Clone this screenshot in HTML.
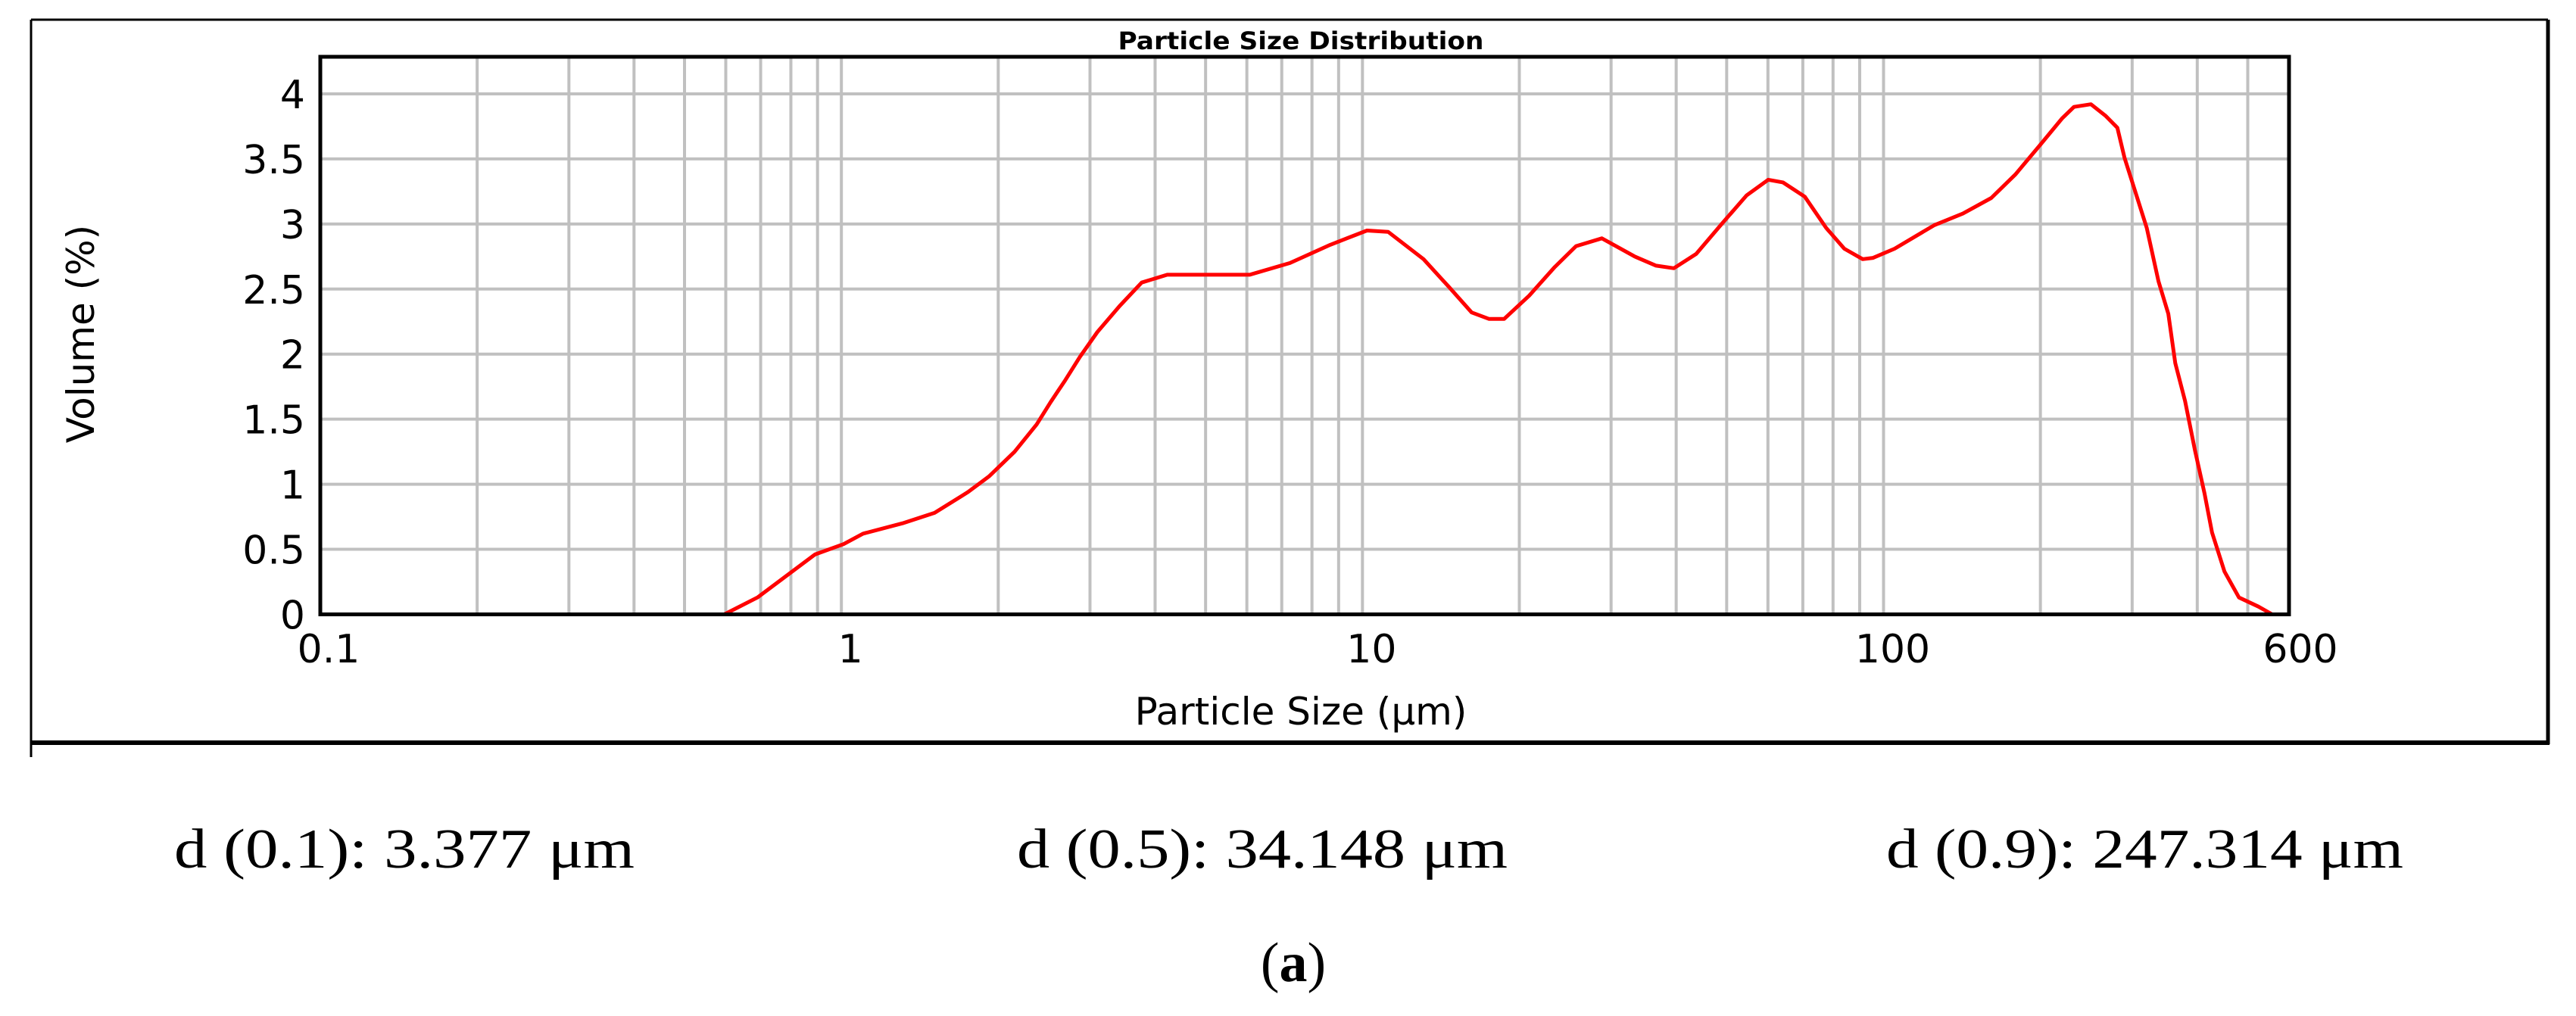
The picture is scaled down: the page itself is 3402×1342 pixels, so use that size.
<!DOCTYPE html>
<html><head><meta charset="utf-8"><style>
html,body{margin:0;padding:0;background:#fff;}
svg{display:block;}
</style></head><body>
<svg id="chart" width="3402" height="1342" viewBox="0 0 3402 1342" xmlns="http://www.w3.org/2000/svg">
  <rect x="0" y="0" width="3402" height="1342" fill="#fff"/>
  <g id="frame">
    <line x1="41" y1="26" x2="3365" y2="26" stroke="#000" stroke-width="3"/>
    <line x1="41" y1="26" x2="41" y2="1000" stroke="#000" stroke-width="3"/>
    <line x1="3365" y1="26" x2="3365" y2="983" stroke="#000" stroke-width="5"/>
    <line x1="41" y1="981" x2="3367" y2="981" stroke="#000" stroke-width="6"/>
  </g>
  <text x="1718" y="65" font-family="'DejaVu Sans', Verdana, sans-serif" font-weight="bold" font-size="32" text-anchor="middle" textLength="483" lengthAdjust="spacingAndGlyphs">Particle Size Distribution</text>
  <g id="grid"></g>
  <g id="series"></g>
  <rect x="423" y="75" width="600" height="736.5" fill="none" stroke="#000" stroke-width="5" id="plotbox"/>
  <g id="yticks"></g>
  <g id="xticks"></g>
  <text x="1718" y="957" font-family="'DejaVu Sans', Verdana, sans-serif" font-size="50" text-anchor="middle">Particle Size (μm)</text>
  <text transform="translate(124,441) rotate(-90)" font-family="'DejaVu Sans', Verdana, sans-serif" font-size="50" text-anchor="middle">Volume (%)</text>
  <text x="230" y="1146" font-family="'Liberation Serif', serif" font-size="74" textLength="608" lengthAdjust="spacingAndGlyphs">d (0.1): 3.377 μm</text>
  <text x="1343" y="1146" font-family="'Liberation Serif', serif" font-size="74" textLength="648" lengthAdjust="spacingAndGlyphs">d (0.5): 34.148 μm</text>
  <text x="2491" y="1146" font-family="'Liberation Serif', serif" font-size="74" textLength="683" lengthAdjust="spacingAndGlyphs">d (0.9): 247.314 μm</text>
  <text x="1708" y="1296" font-family="'Liberation Serif', serif" font-size="74" text-anchor="middle">(<tspan font-weight="bold">a</tspan>)</text>
</svg>
<script>
const sizes = [0.1,0.596,0.69,0.89,1.01,1.10,1.31,1.51,1.75,1.92,2.15,2.37,2.52,2.69,2.87,3.10,3.42,3.77,4.22,6.08,7.26,8.67,10.2,11.2,13.1,14.7,16.2,17.5,18.7,20.9,23.4,25.7,28.8,33.3,36.6,39.6,43.7,48.9,54.6,60.1,64.1,70.6,77.6,84.1,91.2,95.5,105,125,142,161,179,200,220,232,250,267,281,290,303,320,337,352,363,379,396,413,427,451,481,524,557,582];
const volumes = [0,0,0.13,0.46,0.54,0.62,0.70,0.78,0.94,1.06,1.25,1.46,1.63,1.80,1.98,2.17,2.37,2.55,2.61,2.61,2.70,2.84,2.95,2.94,2.73,2.51,2.32,2.27,2.27,2.45,2.67,2.83,2.89,2.75,2.68,2.66,2.77,3.00,3.22,3.34,3.32,3.21,2.97,2.81,2.73,2.74,2.81,2.99,3.08,3.20,3.38,3.61,3.81,3.90,3.92,3.83,3.74,3.51,3.27,2.97,2.56,2.31,1.93,1.64,1.26,0.93,0.63,0.33,0.13,0.06,0,0];
const yTicks = [0,0.5,1,1.5,2,2.5,3,3.5,4];
const yTickLabels = ["0","0.5","1","1.5","2","2.5","3","3.5","4"];
const xTickValues = [0.1,1,10,100,600];
const xTickLabels = ["0.1","1","10","100","600"];
const xMin = 0.1, xMax = 600, yMin = 0, yMax = 4.285;
const L = 423, R = 3023, T = 75, B = 811.5;
document.getElementById('plotbox').setAttribute('width', R - L);
function xs(v){ return L + (Math.log10(v) - Math.log10(xMin)) / (Math.log10(xMax) - Math.log10(xMin)) * (R - L); }
function ys(v){ return B - (v - yMin) / (yMax - yMin) * (B - T); }
const NS = 'http://www.w3.org/2000/svg';
const grid = document.getElementById('grid');
for (let d = 0.1; d < 1000; d *= 10) {
  for (let m = 1; m <= 9; m++) {
    const v = d * m;
    if (v <= xMin * 1.0001 || v >= xMax) continue;
    const ln = document.createElementNS(NS, 'line');
    ln.setAttribute('x1', xs(v)); ln.setAttribute('x2', xs(v));
    ln.setAttribute('y1', T); ln.setAttribute('y2', B);
    ln.setAttribute('stroke', '#c0c0c0'); ln.setAttribute('stroke-width', '4');
    
    
    grid.appendChild(ln);
  }
}
yTicks.forEach(function(t, i){
  if (t > 0) {
    const ln = document.createElementNS(NS, 'line');
    ln.setAttribute('x1', L); ln.setAttribute('x2', R);
    ln.setAttribute('y1', ys(t)); ln.setAttribute('y2', ys(t));
    ln.setAttribute('stroke', '#c0c0c0'); ln.setAttribute('stroke-width', '4');
    
    
    grid.appendChild(ln);
  }
  const tx = document.createElementNS(NS, 'text');
  tx.setAttribute('x', 403); tx.setAttribute('y', ys(t) + 19);
  tx.setAttribute('text-anchor', 'end');
  tx.setAttribute('font-family', "'DejaVu Sans', Verdana, sans-serif");
  tx.setAttribute('font-size', '52');
  tx.textContent = yTickLabels[i];
  
  
  document.getElementById('yticks').appendChild(tx);
});
xTickValues.forEach(function(v, i){
  const tx = document.createElementNS(NS, 'text');
  tx.setAttribute('x', xs(v) + (i === 0 ? 11 : (i === xTickValues.length - 1 ? 15 : 12)));
  tx.setAttribute('y', 875);
  tx.setAttribute('text-anchor', 'middle');
  tx.setAttribute('font-family', "'DejaVu Sans', Verdana, sans-serif");
  tx.setAttribute('font-size', '52');
  tx.textContent = xTickLabels[i];
  
  
  document.getElementById('xticks').appendChild(tx);
});
const pts = sizes.map(function(s, i){ return xs(s).toFixed(1) + ',' + ys(volumes[i]).toFixed(1); }).join(' ');
const pl = document.createElementNS(NS, 'polyline');
pl.setAttribute('points', pts);
pl.setAttribute('fill', 'none');
pl.setAttribute('stroke', '#ff0000');
pl.setAttribute('stroke-width', '5');
pl.setAttribute('stroke-linejoin', 'round');


document.getElementById('series').appendChild(pl);
</script>
</body></html>
